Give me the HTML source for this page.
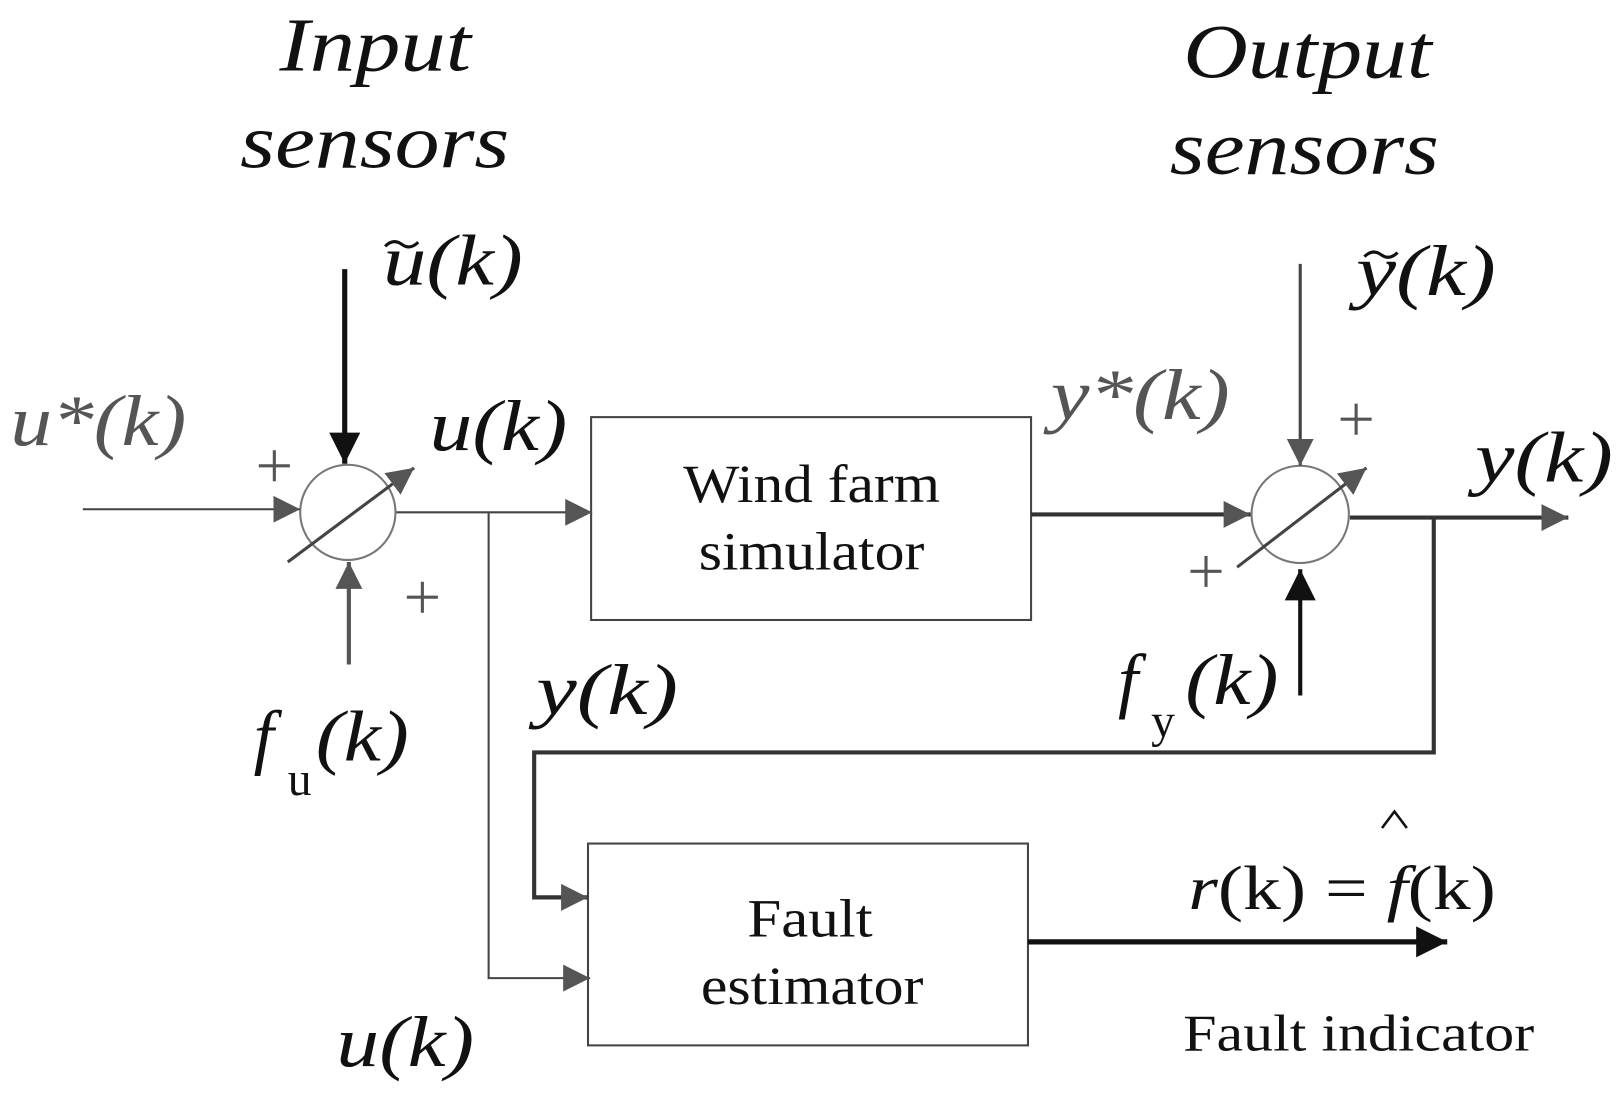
<!DOCTYPE html>
<html><head><style>html,body{margin:0;padding:0;background:#fff;}svg{display:block}</style></head>
<body>
<svg width="1617" height="1093" viewBox="0 0 1562 1056" preserveAspectRatio="none" xmlns="http://www.w3.org/2000/svg">
<defs>
<marker id="b" viewBox="0 0 10 10" refX="10" refY="5" markerWidth="30" markerHeight="30" markerUnits="userSpaceOnUse" orient="auto"><path d="M0,0L10,5L0,10z" fill="#111"/></marker>
<marker id="g" viewBox="0 0 10 10" refX="10" refY="5" markerWidth="26" markerHeight="26" markerUnits="userSpaceOnUse" orient="auto"><path d="M0,0L10,5L0,10z" fill="#555"/></marker>
</defs>
<g font-family="Liberation Serif, serif" fill="#111" lengthAdjust="spacingAndGlyphs">
<g font-style="italic" font-size="74">
<text x="270" y="68" textLength="185" lengthAdjust="spacingAndGlyphs">Input</text>
<text x="232" y="162" textLength="260" lengthAdjust="spacingAndGlyphs">sensors</text>
<text x="1143" y="75" textLength="240" lengthAdjust="spacingAndGlyphs">Output</text>
<text x="1130" y="168" textLength="260" lengthAdjust="spacingAndGlyphs">sensors</text>
</g>
<g font-style="italic" font-size="70">
<text x="370" y="275" textLength="135" lengthAdjust="spacingAndGlyphs">u(k)</text>
<text x="1310" y="285" textLength="135" lengthAdjust="spacingAndGlyphs">y(k)</text>
<text x="10" y="430" fill="#555" textLength="170" lengthAdjust="spacingAndGlyphs">u*(k)</text>
<text x="415" y="435" textLength="133" lengthAdjust="spacingAndGlyphs">u(k)</text>
<text x="1015" y="405" fill="#555" textLength="173" lengthAdjust="spacingAndGlyphs">y*(k)</text>
<text x="1425" y="465" textLength="133" lengthAdjust="spacingAndGlyphs">y(k)</text>
<text x="518" y="690" textLength="137" lengthAdjust="spacingAndGlyphs">y(k)</text>
<text x="245" y="735">f</text><text x="305" y="735" textLength="90" lengthAdjust="spacingAndGlyphs">(k)</text>
<text x="1080" y="680">f</text><text x="1145" y="680" textLength="90" lengthAdjust="spacingAndGlyphs">(k)</text>
<text x="325" y="1030" textLength="133" lengthAdjust="spacingAndGlyphs">u(k)</text>
</g>
<path d="M372,238 q8,-8 16,-2 t16,-2" stroke="#111" stroke-width="3" fill="none"/>
<path d="M1318,248 q8,-8 16,-2 t16,-2" stroke="#111" stroke-width="3" fill="none"/>
<text x="278" y="768" font-size="46">u</text>
<text x="1112" y="712" font-size="46">y</text>
<g font-size="52">
<text x="660" y="485" textLength="248" lengthAdjust="spacingAndGlyphs">Wind farm</text>
<text x="675" y="550" textLength="218" lengthAdjust="spacingAndGlyphs">simulator</text>
<text x="722" y="905" textLength="121" lengthAdjust="spacingAndGlyphs">Fault</text>
<text x="677" y="970" textLength="215" lengthAdjust="spacingAndGlyphs">estimator</text>
</g>
<text x="1148" y="878" font-size="60" textLength="297" lengthAdjust="spacingAndGlyphs"><tspan font-style="italic">r</tspan>(k) = <tspan font-style="italic">f</tspan>(k)</text>
<path d="M1335,800 L1347,784 L1359,800" stroke="#111" stroke-width="2.5" fill="none"/>
<text x="1143" y="1015" font-size="50" textLength="339" lengthAdjust="spacingAndGlyphs">Fault indicator</text>
<g stroke="#555" stroke-width="3">
<path d="M250,450h30M265,435v30"/><path d="M393,577h30M408,562v30"/>
<path d="M1295,405h30M1310,390v30"/><path d="M1150,552h30M1165,537v30"/>
</g>
</g>
<g fill="none">
<rect x="571" y="403" width="425" height="196" stroke="#444" stroke-width="2"/>
<rect x="568" y="815" width="425" height="195" stroke="#444" stroke-width="2"/>
<circle cx="336" cy="495" r="46" stroke="#777" stroke-width="2"/>
<circle cx="1256" cy="497" r="47" stroke="#777" stroke-width="2"/>
<line x1="80" y1="492" x2="290" y2="492" stroke="#444" stroke-width="2" marker-end="url(#g)"/>
<line x1="333" y1="260" x2="333" y2="448" stroke="#111" stroke-width="5" marker-end="url(#b)"/>
<line x1="337" y1="642" x2="337" y2="543" stroke="#555" stroke-width="4" marker-end="url(#g)"/>
<line x1="278" y1="543" x2="400" y2="452" stroke="#444" stroke-width="3" marker-end="url(#g)"/>
<line x1="383" y1="495" x2="572" y2="495" stroke="#444" stroke-width="2" marker-end="url(#g)"/>
<polyline points="472,495 472,945 570,945" stroke="#444" stroke-width="2" marker-end="url(#g)"/>
<line x1="996" y1="497" x2="1208" y2="497" stroke="#333" stroke-width="4" marker-end="url(#g)"/>
<line x1="1256" y1="255" x2="1256" y2="450" stroke="#444" stroke-width="3" marker-end="url(#g)"/>
<line x1="1256" y1="672" x2="1256" y2="550" stroke="#111" stroke-width="4" marker-end="url(#b)"/>
<line x1="1195" y1="548" x2="1320" y2="452" stroke="#444" stroke-width="3" marker-end="url(#g)"/>
<line x1="1304" y1="500" x2="1515" y2="500" stroke="#333" stroke-width="4" marker-end="url(#g)"/>
<polyline points="1385,500 1385,727 516,727 516,867 568,867" stroke="#333" stroke-width="4" marker-end="url(#g)"/>
<line x1="993" y1="910" x2="1398" y2="910" stroke="#111" stroke-width="5" marker-end="url(#b)"/>
</g>
</svg>
</body></html>
